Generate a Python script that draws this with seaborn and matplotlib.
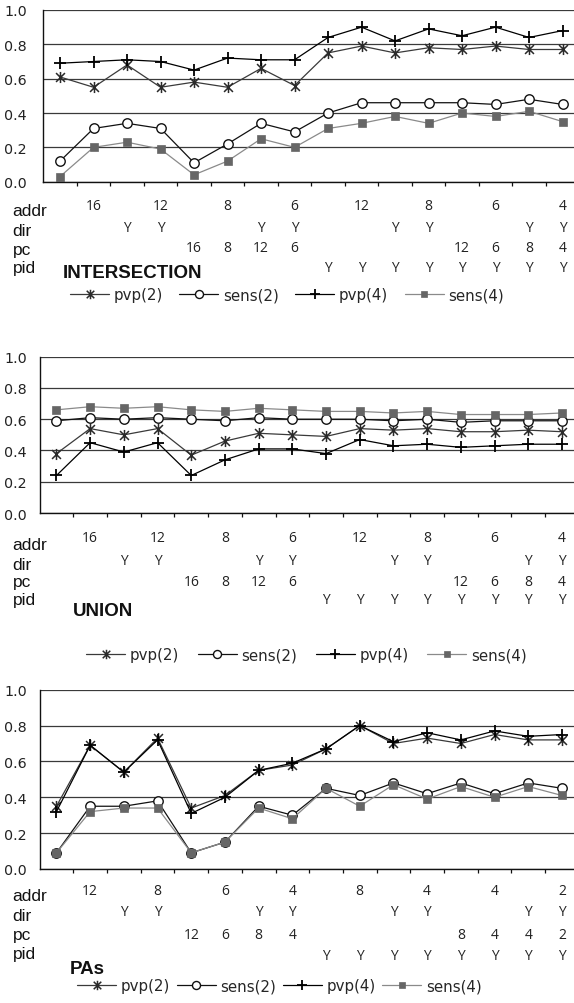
import numpy as np
import matplotlib
matplotlib.use("Agg")
import matplotlib.pyplot as plt
from matplotlib.path import Path
from matplotlib.transforms import blended_transform_factory
import seaborn as sns

# ---------------------------------------------------------------- data
n_cfg = 16
positions = np.arange(n_cfg)
series_names = ["pvp(2)", "sens(2)", "pvp(4)", "sens(4)"]
row_names = ["addr", "dir", "pc", "pid"]

# INTERSECTION
inter_pvp2 = [0.61, 0.55, 0.68, 0.55, 0.58, 0.55, 0.66, 0.56, 0.75, 0.79, 0.75, 0.78, 0.77, 0.79, 0.77, 0.77]
inter_sens2 = [0.12, 0.31, 0.34, 0.31, 0.11, 0.22, 0.34, 0.29, 0.40, 0.46, 0.46, 0.46, 0.46, 0.45, 0.48, 0.45]
inter_pvp4 = [0.69, 0.70, 0.71, 0.70, 0.65, 0.72, 0.71, 0.71, 0.84, 0.90, 0.82, 0.89, 0.85, 0.90, 0.84, 0.88]
inter_sens4 = [0.03, 0.20, 0.23, 0.19, 0.04, 0.12, 0.25, 0.20, 0.31, 0.34, 0.38, 0.34, 0.40, 0.38, 0.41, 0.35]

# UNION
union_pvp2 = [0.38, 0.54, 0.50, 0.54, 0.37, 0.46, 0.51, 0.50, 0.49, 0.54, 0.53, 0.54, 0.52, 0.52, 0.53, 0.52]
union_sens2 = [0.59, 0.61, 0.60, 0.61, 0.60, 0.59, 0.61, 0.60, 0.60, 0.60, 0.59, 0.60, 0.58, 0.59, 0.59, 0.59]
union_pvp4 = [0.24, 0.45, 0.39, 0.45, 0.24, 0.34, 0.41, 0.41, 0.38, 0.47, 0.43, 0.44, 0.42, 0.43, 0.44, 0.44]
union_sens4 = [0.66, 0.68, 0.67, 0.68, 0.66, 0.65, 0.67, 0.66, 0.65, 0.65, 0.64, 0.65, 0.63, 0.63, 0.63, 0.64]

# PAs
pas_pvp2 = [0.35, 0.69, 0.54, 0.73, 0.34, 0.41, 0.55, 0.58, 0.67, 0.80, 0.70, 0.73, 0.70, 0.75, 0.72, 0.72]
pas_sens2 = [0.09, 0.35, 0.35, 0.38, 0.09, 0.15, 0.35, 0.30, 0.45, 0.41, 0.48, 0.42, 0.48, 0.42, 0.48, 0.45]
pas_pvp4 = [0.32, 0.69, 0.54, 0.72, 0.31, 0.40, 0.55, 0.59, 0.67, 0.80, 0.71, 0.76, 0.72, 0.77, 0.74, 0.75]
pas_sens4 = [0.09, 0.32, 0.34, 0.34, 0.09, 0.15, 0.34, 0.28, 0.45, 0.35, 0.47, 0.39, 0.46, 0.40, 0.46, 0.41]

# configuration table under each chart
cfg_addr = ["", "16", "", "12", "", "8", "", "6", "", "12", "", "8", "", "6", "", "4"]
cfg_dir = ["", "", "Y", "Y", "", "", "Y", "Y", "", "", "Y", "Y", "", "", "Y", "Y"]
cfg_pc = ["", "", "", "", "16", "8", "12", "6", "", "", "", "", "12", "6", "8", "4"]
cfg_pid = ["", "", "", "", "", "", "", "", "Y", "Y", "Y", "Y", "Y", "Y", "Y", "Y"]

pas_addr = ["", "12", "", "8", "", "6", "", "4", "", "8", "", "4", "", "4", "", "2"]
pas_dir = ["", "", "Y", "Y", "", "", "Y", "Y", "", "", "Y", "Y", "", "", "Y", "Y"]
pas_pc = ["", "", "", "", "12", "6", "8", "4", "", "", "", "", "8", "4", "4", "2"]
pas_pid = ["", "", "", "", "", "", "", "", "Y", "Y", "Y", "Y", "Y", "Y", "Y", "Y"]

# ---------------------------------------------------------------- style
sns.set_style("white")
plt.rcParams["font.family"] = ["DejaVu Sans"]

W, H = 574, 1004
fig = plt.figure(figsize=(W / 100, H / 100), dpi=100)

# asterisk marker: an X crossed by a vertical stroke
star = Path([(-1, -1), (1, 1), (-1, 1), (1, -1), (0, -1.25), (0, 1.25)],
            [Path.MOVETO, Path.LINETO, Path.MOVETO, Path.LINETO, Path.MOVETO, Path.LINETO])

styles = [
    dict(color="#3a3a3a", marker=star, markersize=8, markerfacecolor="none",
         markeredgecolor="#2a2a2a", markeredgewidth=1.1, linewidth=0.9),
    dict(color="#111111", marker="o", markersize=6.8, markerfacecolor="white",
         markeredgecolor="#111111", markeredgewidth=1.0, linewidth=0.9),
    dict(color="#000000", marker="+", markersize=8.5, markeredgecolor="#000000",
         markeredgewidth=1.3, linewidth=0.9),
    dict(color="#8a8a8a", marker="s", markersize=5.2, markerfacecolor="#666666",
         markeredgecolor="#666666", markeredgewidth=0.5, linewidth=0.9),
]

panels = [
    dict(title="INTERSECTION", data=[inter_pvp2, inter_sens2, inter_pvp4, inter_sens4],
         table=[cfg_addr, cfg_dir, cfg_pc, cfg_pid],
         left=43.3, top=11.0, bottom=182.7, step=33.5, pad=8.8,
         val_y=[206, 228, 249, 269], lab_y=[212, 232, 250, 268],
         title_xy=(63, 273), legend_xy=(70, 296), colsp=1.1),
    dict(title="UNION", data=[union_pvp2, union_sens2, union_pvp4, union_sens4],
         table=[cfg_addr, cfg_dir, cfg_pc, cfg_pid],
         left=39.6, top=357.7, bottom=514.0, step=33.7, pad=6.2,
         val_y=[539, 562, 583, 600], lab_y=[546, 566, 583, 601],
         title_xy=(73, 611), legend_xy=(86, 656), colsp=1.25),
    dict(title="PAs", data=[pas_pvp2, pas_sens2, pas_pvp4, pas_sens4],
         table=[pas_addr, pas_dir, pas_pc, pas_pid],
         left=39.6, top=690.7, bottom=870.0, step=33.7, pad=6.2,
         val_y=[892, 913, 936, 957], lab_y=[897, 917, 936, 955],
         title_xy=(70, 970), legend_xy=(77, 987), colsp=0.45),
]

for p in panels:
    width = p["step"] * n_cfg
    ax = fig.add_axes([p["left"] / W, 1 - p["bottom"] / H,
                       width / W, (p["bottom"] - p["top"]) / H])

    for vals, name, st in zip(p["data"], series_names, styles):
        sns.lineplot(x=positions, y=vals, ax=ax, label=name, **st)

    ax.set_xlim(-0.5, n_cfg - 0.5)
    ax.set_ylim(0, 1.0)
    ax.set_yticks(np.arange(0, 1.01, 0.2))
    ax.set_yticklabels([f"{v:.1f}" for v in np.arange(0, 1.01, 0.2)])
    ax.set_xticks(np.arange(0.5, n_cfg, 1.0))
    ax.set_xticklabels([])
    ax.set_xlabel("")
    ax.set_ylabel("")
    ax.grid(axis="y", color="#3a3a3a", linewidth=0.9)
    ax.grid(axis="x", visible=False)
    ax.set_axisbelow(True)
    for side in ("top", "right"):
        ax.spines[side].set_visible(False)
    for side in ("left", "bottom"):
        ax.spines[side].set_color("#111111")
        ax.spines[side].set_linewidth(1.0)
    ax.tick_params(axis="both", direction="out", length=2.9, width=0.9, color="#111111")
    ax.tick_params(axis="y", labelsize=10.3, labelcolor="#222222", pad=p["pad"])
    ax.tick_params(axis="x", bottom=True)

    # configuration rows under the x axis
    trans = blended_transform_factory(ax.transData, fig.transFigure)
    for row, ly, vy, lab in zip(p["table"], p["lab_y"], p["val_y"], row_names):
        fig.text(12.5 / W, 1 - ly / H, lab, ha="left", va="center",
                 fontsize=12.5, family="Liberation Sans", color="#111111")
        for xi, txt in zip(positions, row):
            if txt:
                ax.text(xi, 1 - vy / H, txt, transform=trans, ha="center", va="center",
                        fontsize=10, family="Open Sans", color="#222222", clip_on=False)

    fig.text(p["title_xy"][0] / W, 1 - p["title_xy"][1] / H, p["title"],
             ha="left", va="center", fontsize=13.5, fontweight="bold",
             family="Liberation Sans", color="#111111")

    handles, labels = ax.get_legend_handles_labels()
    ax.legend(handles, labels, ncol=4, frameon=False, numpoints=1,
              loc="center left", markerscale=0.85,
              bbox_to_anchor=(p["legend_xy"][0] / W, 1 - p["legend_xy"][1] / H),
              bbox_transform=fig.transFigure, borderpad=0, borderaxespad=0,
              handlelength=2.6, handletextpad=0.3, columnspacing=p["colsp"],
              prop={"family": "DejaVu Sans", "size": 10.8})

fig.savefig("out.png", dpi=100)
